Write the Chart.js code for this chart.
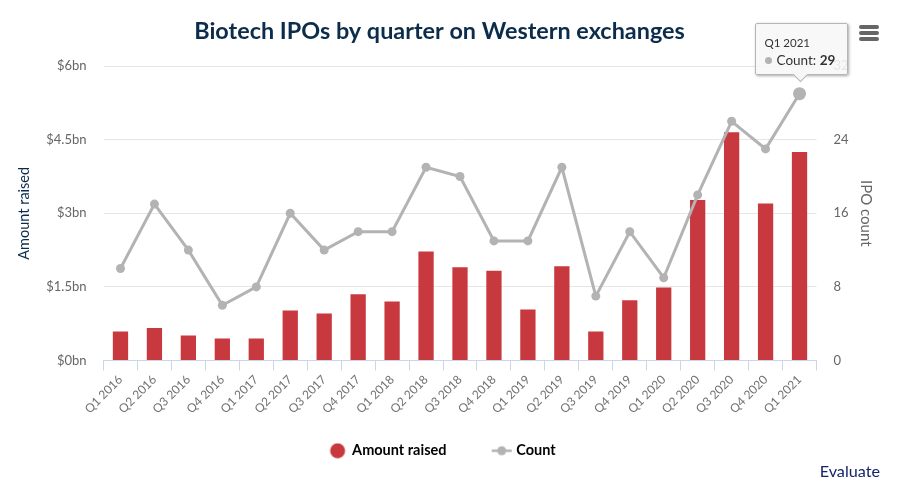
<!DOCTYPE html>
<html><head><meta charset="utf-8">
<script src="https://cdn.jsdelivr.net/npm/chart.js@4"></script>
<style>
html,body{margin:0;padding:0;background:#fff;overflow:hidden}
#wrap{position:relative;width:899px;height:487px;font-family:Lato,sans-serif}
canvas{position:absolute;left:0;top:0}
#credit{position:absolute;right:19px;top:461px;font-size:16.2px;color:#14246b}
#menu{position:absolute;left:859px;top:25px;width:20px;height:16px;display:flex;flex-direction:column;justify-content:space-between}
#menu i{display:block;height:4px;border-radius:2px;background:#666}
#tip{position:absolute;box-sizing:border-box;width:93px;height:52px;background:rgba(247,247,247,.88);border:1px solid #b5b5b5;border-radius:2px;box-shadow:1px 1px 3px rgba(0,0,0,.35);padding:11px 9px;color:#333}
#tip .t{font-size:11.5px;line-height:16px}
#tip .b{font-size:13.5px;line-height:19px;white-space:nowrap}
#tip .d{display:inline-block;width:7px;height:7px;border-radius:50%;background:#b3b3b3;margin-right:5px;vertical-align:1px}
#tip:after{content:"";position:absolute;left:39px;bottom:-6px;width:10px;height:10px;background:#f7f7f7;border-right:1px solid #b5b5b5;border-bottom:1px solid #b5b5b5;transform:rotate(45deg)}
</style></head><body>
<div id="wrap">
<canvas id="c" width="899" height="487"></canvas>
<div id="menu"><i></i><i></i><i></i></div>
<div id="credit">Evaluate</div>
<div id="tip" style="display:none"></div>
</div>
<script>
const categories=["Q1 2016","Q2 2016","Q3 2016","Q4 2016","Q1 2017","Q2 2017","Q3 2017","Q4 2017","Q1 2018","Q2 2018","Q3 2018","Q4 2018","Q1 2019","Q2 2019","Q3 2019","Q4 2019","Q1 2020","Q2 2020","Q3 2020","Q4 2020","Q1 2021"];
const amountRaised=[0.59,0.66,0.51,0.45,0.45,1.02,0.96,1.35,1.2,2.22,1.9,1.83,1.04,1.92,0.59,1.23,1.49,3.27,4.65,3.2,4.25];
const ipoCount=[10,17,12,6,8,16,12,14,14,21,20,13,13,21,7,14,9,18,26,23,29];
const leftTicks=[0,1.5,3,4.5,6];
const rightTicks=[0,8,16,24,32];
const FONT="Lato, sans-serif";
const GREY="#b3b3b3",RED="#c8393f",AXIS="#ccd6eb";

function countSymbol(){
  const s=document.createElement('canvas');s.width=28;s.height=12;
  const x=s.getContext('2d');
  x.strokeStyle=GREY;x.lineWidth=2.5;x.beginPath();x.moveTo(4,6);x.lineTo(24,6);x.stroke();
  x.fillStyle=GREY;x.beginPath();x.arc(14,6,4.5,0,Math.PI*2);x.fill();
  return s;
}
function redSymbol(){
  const s=document.createElement('canvas');s.width=28;s.height=16;
  const x=s.getContext('2d');
  x.fillStyle=RED;x.beginPath();x.arc(14,8,7.5,0,Math.PI*2);x.fill();
  return s;
}
function externalTip(ctx){
  const t=ctx.tooltip,el=document.getElementById('tip');
  if(!t.opacity||!t.dataPoints||!t.dataPoints.length){el.style.display='none';return;}
  const p=t.dataPoints[0];
  el.innerHTML='<div class="t"></div><div class="b"><span class="d"></span>'+p.dataset.label+': <b></b></div>';
  el.querySelector('.t').textContent=p.label;
  el.querySelector('b').textContent=p.formattedValue;
  el.style.display='block';
  el.style.left=(t.caretX-45)+'px';
  el.style.top=(t.caretY-71)+'px';
}
const legendNudge={id:'legendNudge',afterLayout(ch){ch.legend.left+=7;ch.legend.top-=25;}};
const chart=new Chart(document.getElementById('c'),{
  plugins:[legendNudge],
  data:{labels:categories,datasets:[
    {type:'line',label:'Count',data:ipoCount,yAxisID:'y1',order:1,borderColor:GREY,backgroundColor:GREY,borderWidth:3,
     pointRadius:4.5,pointHoverRadius:6.5,pointBorderWidth:0,pointHoverBorderWidth:0,pointBackgroundColor:GREY,pointHoverBackgroundColor:GREY,tension:0},
    {type:'bar',label:'Amount raised',data:amountRaised,yAxisID:'y',order:2,backgroundColor:RED,
     categoryPercentage:1,barPercentage:0.45}
  ]},
  options:{
    responsive:false,animation:false,
    layout:{padding:{left:0,right:20,top:0,bottom:-6}},
    events:[],
    plugins:{
      title:{display:true,text:'Biotech IPOs by quarter on Western exchanges',color:'#0b2c4a',
        font:{family:FONT,size:23.4,weight:'700'},padding:{top:17,bottom:21}},
      legend:{position:'bottom',
        labels:{usePointStyle:true,color:'#333',font:{family:FONT,size:14.5,weight:'700'},padding:48,boxWidth:28,boxHeight:14,
          generateLabels(){return [
            {text:'Amount raised',pointStyle:redSymbol(),fillStyle:RED,strokeStyle:RED,lineWidth:0,datasetIndex:1},
            {text:'Count',pointStyle:countSymbol(),fillStyle:GREY,strokeStyle:GREY,lineWidth:0,datasetIndex:0}
          ];}}},
      tooltip:{enabled:false,external:externalTip,mode:'nearest',intersect:true}
    },
    scales:{
      x:{type:'category',offset:true,
        afterFit(s){s.height=60;},
        grid:{display:true,drawOnChartArea:false,drawTicks:true,tickLength:10,color:AXIS,lineWidth:1},
        border:{display:true,color:AXIS,width:1},
        ticks:{color:'#707070',font:{family:FONT,size:12},minRotation:45,maxRotation:45,autoSkip:false,padding:2}},
      y:{type:'linear',position:'left',min:0,max:6,
        afterFit(s){s.width=103.5;},
        afterBuildTicks(s){s.ticks=leftTicks.map(v=>({value:v}));},
        title:{display:true,text:'Amount raised',color:'#0b2c4a',font:{family:FONT,size:14.5},padding:{top:16,bottom:0}},
        grid:{color:'#e6e6e6',drawTicks:false},border:{display:false},
        ticks:{color:'#666',font:{family:FONT,size:13},padding:17,callback:v=>'$'+v+'bn'}},
      y1:{type:'linear',position:'right',min:0,max:32,
        afterFit(s){s.width=62.5;},
        afterBuildTicks(s){s.ticks=rightTicks.map(v=>({value:v}));},
        title:{display:true,text:'IPO count',color:'#666',font:{family:FONT,size:15}},
        grid:{display:false,drawTicks:false},border:{display:false},
        ticks:{color:'#666',font:{family:FONT,size:13},padding:17}}
    }
  }
});
chart.setActiveElements([{datasetIndex:0,index:20}]);
chart.tooltip.setActiveElements([{datasetIndex:0,index:20}],{x:0,y:0});
chart.update();
</script>
</body></html>
